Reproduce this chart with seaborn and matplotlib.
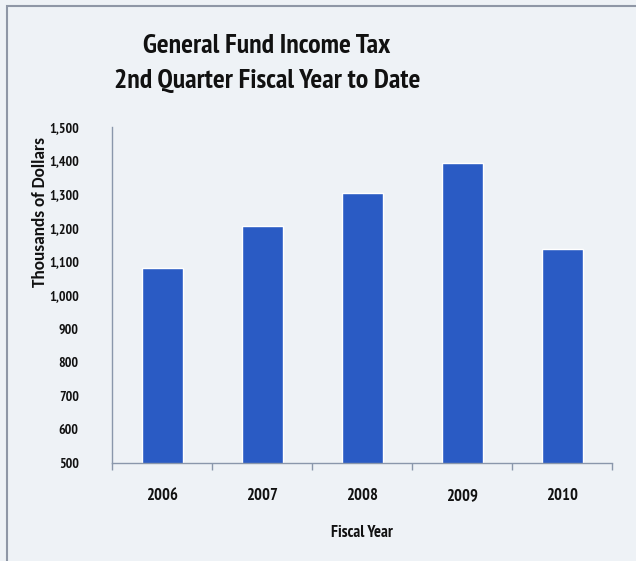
import matplotlib
matplotlib.use("Agg")
import matplotlib.pyplot as plt
from matplotlib.patches import Rectangle
from matplotlib.ticker import FixedLocator, FuncFormatter
import seaborn as sns
import pandas as pd

years = ["2006", "2007", "2008", "2009", "2010"]
income_tax = [1081, 1206, 1305, 1393, 1138]
y_ticks = [500, 600, 700, 800, 900, 1000, 1100, 1200, 1300, 1400, 1500]

sns.set_style("white")
plt.rcParams["font.family"] = ["PT Sans Narrow", "DejaVu Sans"]
plt.rcParams["font.weight"] = "bold"

bg = "#eef2f6"
bar_color = "#2a5bc4"
axis_color = "#8a97ab"
text_color = "#111111"

fig = plt.figure(figsize=(6.36, 5.61), dpi=100, facecolor=bg)
ax = fig.add_axes([112 / 636, (561 - 463) / 561, 500 / 636, (463 - 127) / 561])
ax.set_facecolor(bg)

df = pd.DataFrame({"Fiscal Year": years, "Income Tax": income_tax})
sns.barplot(data=df, x="Fiscal Year", y="Income Tax", color=bar_color,
            saturation=1, width=0.41, ax=ax)

ax.set_ylim(500, 1500)
ax.set_xlim(-0.5, len(years) - 0.5)
ax.yaxis.set_major_locator(FixedLocator(y_ticks))
ax.yaxis.set_major_formatter(FuncFormatter(lambda v, _: f"{int(v):,}"))

for side in ("top", "right"):
    ax.spines[side].set_visible(False)
for side in ("left", "bottom"):
    ax.spines[side].set_color(axis_color)
    ax.spines[side].set_linewidth(1.0)

ax.tick_params(axis="y", length=0, pad=24, labelsize=10, labelcolor=text_color)
ax.tick_params(axis="x", which="major", length=0, pad=18, labelsize=12, labelcolor=text_color)
ax.xaxis.set_minor_locator(FixedLocator([i - 0.5 for i in range(len(years) + 1)]))
ax.tick_params(axis="x", which="minor", bottom=True, length=5, width=1,
               color=axis_color, direction="out")
for lbl in ax.get_xticklabels() + ax.get_yticklabels():
    lbl.set_fontweight("bold")

ax.set_xlabel("Fiscal Year", fontsize=12, fontweight="bold", color=text_color, labelpad=15)
ax.set_ylabel("Thousands of Dollars", fontsize=12.5, fontweight="bold", color=text_color,
              family=["Carlito", "DejaVu Sans"])
ax.yaxis.set_label_coords(-0.127, 0.747)

title_x = 267 / 636
fig.text(title_x, 1 - 53 / 561, "General Fund Income Tax", ha="center", va="baseline",
         fontsize=20, fontweight="bold", color=text_color)
fig.text(title_x, 1 - 88 / 561, "2nd Quarter Fiscal Year to Date", ha="center", va="baseline",
         fontsize=20, fontweight="bold", color=text_color)

# outer frame of the chart
fig.patches.append(Rectangle((7 / 636, -0.01), 1.0, 1 - 6 / 561 + 0.01, transform=fig.transFigure,
                             fill=False, edgecolor="#8f97a6", linewidth=1.5))

fig.savefig("out.png", dpi=100, facecolor=bg)
